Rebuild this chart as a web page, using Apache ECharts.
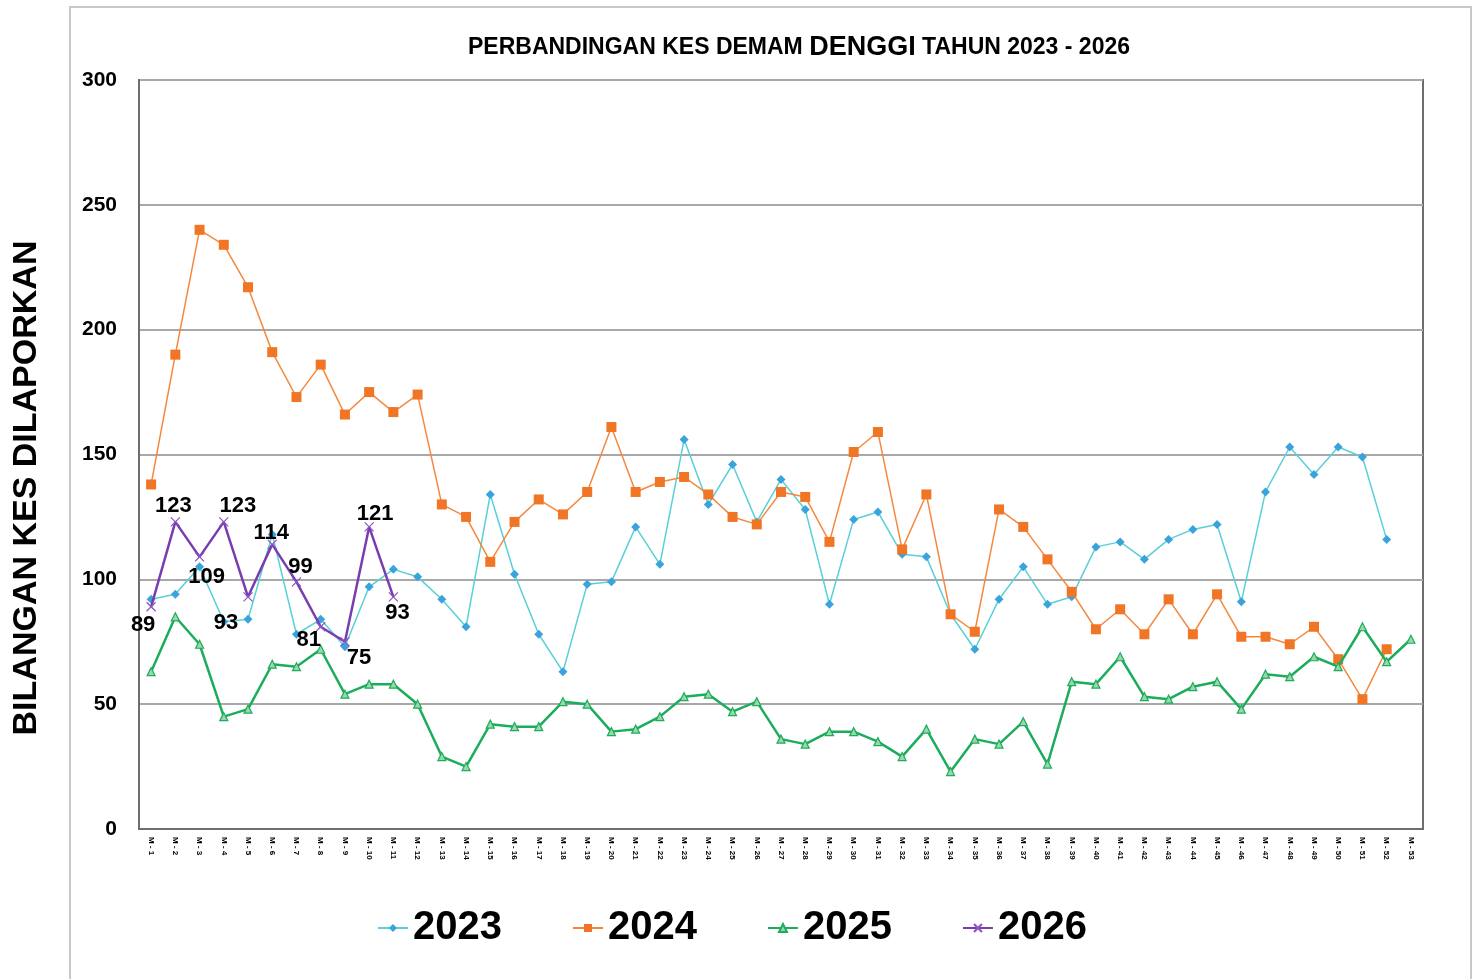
<!DOCTYPE html>
<html>
<head>
<meta charset="utf-8">
<script src="https://cdn.jsdelivr.net/npm/echarts@6/dist/echarts.min.js"></script>
<style>html,body{margin:0;padding:0;background:#fff}#c{width:1475px;height:979px}</style>
</head>
<body>
<div id="c"></div>
<script>
const weeks = [];
for (let i = 1; i <= 53; i++) weeks.push('M - ' + i);
const yTicks = [0, 50, 100, 150, 200, 250, 300];
const v2023 = [92,94,105,83,84,118,78,84,73,97,104,101,92,81,134,102,78,63,98,99,121,106,156,130,146,123,140,128,90,124,127,110,109,86,72,92,105,90,93,113,115,108,116,120,122,91,135,153,142,153,149,116,null];
const v2024 = [138,190,240,234,217,191,173,186,166,175,167,174,130,125,107,123,132,126,135,161,135,139,141,134,125,122,135,133,115,151,159,112,134,86,79,128,121,108,95,80,88,78,92,78,94,77,77,74,81,68,52,72,null];
const v2025 = [63,85,74,45,48,66,65,72,54,58,58,50,29,25,42,41,41,51,50,39,40,45,53,54,47,51,36,34,39,39,35,29,40,23,36,34,43,26,59,58,69,53,52,57,59,48,62,61,69,65,81,67,76];
const v2026 = [89,123,109,123,93,114,99,81,75,121,93];
// label offsets (style only) for 2026 point labels
const labelOffsets2026 = [[-8,18],[-2,-16],[7,20],[14,-16],[-22,26],[-1,-11],[4,-15],[-12,13],[14,16],[6,-13],[4,16]];

const FONT = 'Liberation Sans, Arial, sans-serif';
const chart = echarts.init(document.getElementById('c'));
chart.setOption({
  animation: false,
  backgroundColor: '#fff',
  graphic: [
    {type:'rect', shape:{x:70, y:7, width:1401, height:1010}, style:{fill:'none', stroke:'#c8c8c8', lineWidth:2}, z:-1},
    {type:'text', x:27, y:488, rotation:Math.PI/2,
     style:{text:'BILANGAN KES DILAPORKAN', font:'bold 34px ' + FONT, fill:'#000', align:'center', verticalAlign:'middle'}}
  ],
  title: {
    text: '{a|PERBANDINGAN KES DEMAM }{b|DENGGI}{a| TAHUN 2023 - 2026}',
    left: 794, top: 29, textAlign: 'center',
    textStyle: {
      rich: {
        a: {fontFamily: FONT, fontWeight: 'bold', fontSize: 23, color: '#000'},
        b: {fontFamily: FONT, fontWeight: 'bold', fontSize: 27, color: '#000'}
      }
    }
  },
  legend: {
    left: 372, top: 903,
    itemWidth: 30, itemHeight: 10, itemGap: 70,
    textStyle: {fontFamily: FONT, fontWeight: 'bold', fontSize: 40, color: '#000', lineHeight: 40},
    data: ['2023','2024','2025','2026']
  },
  grid: {left: 139, right: 52, top: 80, bottom: 150, show: true, borderColor: '#6e6e6e', borderWidth: 2, containLabel: false},
  xAxis: {
    type: 'category', data: weeks, boundaryGap: true,
    axisLine: {show: true, lineStyle: {color: '#6e6e6e', width: 2}},
    axisTick: {show: false},
    axisLabel: {interval: 0, rotate: -90, fontSize: 8, fontFamily: FONT, fontWeight: 'bold', color: '#000', margin: 8}
  },
  yAxis: {
    type: 'value', min: yTicks[0], max: yTicks[yTicks.length-1], interval: 50,
    axisLine: {show: true, lineStyle: {color: '#6e6e6e', width: 2}},
    axisTick: {show: false},
    axisLabel: {fontSize: 21, fontFamily: FONT, fontWeight: 'bold', color: '#000', margin: 22},
    splitLine: {lineStyle: {color: '#a8a8a8', width: 2}}
  },
  series: [
    {name:'2023', type:'line', data:v2023, symbol:'diamond', symbolSize:9,
     lineStyle:{color:'#58d0d8', width:1.5}, itemStyle:{color:'#3ba3dc'}, z:2},
    {name:'2024', type:'line', data:v2024, symbol:'rect', symbolSize:10,
     lineStyle:{color:'#f5883f', width:1.5}, itemStyle:{color:'#f07524'}, z:3},
    {name:'2025', type:'line', data:v2025, symbol:'triangle', symbolSize:8,
     lineStyle:{color:'#1bad5c', width:2.5}, itemStyle:{color:'#9ed5ab', borderColor:'#1bad5c', borderWidth:1.2}, z:4},
    {name:'2026', type:'line', symbol:'path://M0,0L10,10M10,0L0,10', symbolSize:9,
     lineStyle:{color:'#7a3db0', width:2.5}, itemStyle:{color:'#7a3db0', borderColor:'#8a55c0', borderWidth:1.2}, z:5,
     data: v2026.map((v,i)=>({value:v, label:{show:true, position:'inside', offset:labelOffsets2026[i]}})),
     label:{fontFamily: FONT, fontWeight:'bold', fontSize:22, color:'#000'}}
  ]
});
</script>
</body>
</html>
